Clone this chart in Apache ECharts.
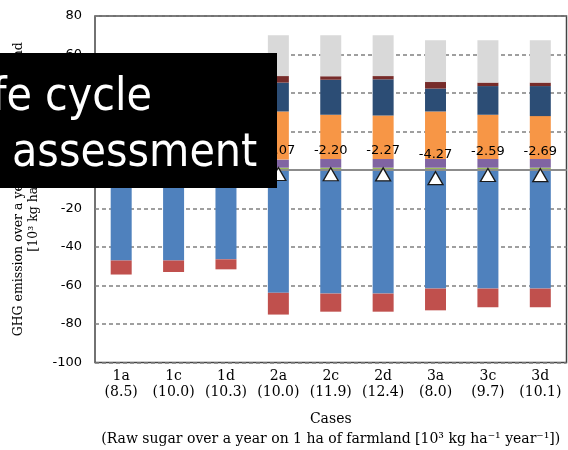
<!DOCTYPE html>
<html>
<head>
<meta charset="utf-8">
<script src="https://cdn.jsdelivr.net/npm/echarts@6/dist/echarts.min.js"></script>
<style>
  html, body { margin: 0; padding: 0; background: #fff; }
  #chart { width: 568px; height: 450px; }
</style>
</head>
<body>
<div id="chart"></div>
<script>
// Cases and raw sugar yield per case [10^3 kg ha^-1 year^-1]
const categories = ['1a', '1c', '1d', '2a', '2c', '2d', '3a', '3c', '3d'];
const sugarYield = ['8.5', '10.0', '10.3', '10.0', '11.9', '12.4', '8.0', '9.7', '10.1'];

// Emission components (positive, stacked from zero upward)
const stage1 = [1.0, 1.0, 1.0, 1.2, 1.2, 1.2, 1.2, 1.2, 1.2];
const stage2 = [3.8, 3.8, 3.8, 4.2, 4.5, 4.5, 4.5, 4.5, 4.5];
const stage3 = [20.0, 18.5, 18.0, 25.0, 23.0, 22.6, 24.7, 23.0, 22.3];
const stage4 = [12.0, 14.5, 15.0, 15.0, 18.2, 18.8, 11.9, 14.9, 15.6];
const stage5 = [2.5, 1.4, 1.3, 3.4, 1.8, 1.7, 3.4, 1.8, 1.8];
const stage6 = [12.5, 12.8, 11.0, 21.2, 21.3, 21.2, 21.7, 22.0, 22.0];

// Removals / credits (negative, stacked from zero downward)
const uptake = [-47.0, -47.0, -46.4, -63.8, -64.2, -64.2, -61.6, -61.6, -61.6];
const offset = [-7.3, -6.0, -5.2, -11.3, -9.4, -9.4, -11.3, -9.7, -9.7];

// Net GHG emission per case
const netEmission = [-2.45, -2.62, -2.78, -2.07, -2.20, -2.27, -4.27, -2.59, -2.69];

// Y axis range
const yMin = -100, yMax = 80, yStep = 20;

const serif = 'DejaVu Serif';
const sans = 'DejaVu Sans';

function barSeries(name, data, color) {
  return {
    name: name,
    type: 'bar',
    stack: 'total',
    barWidth: 21,
    data: data,
    itemStyle: { color: color },
    emphasis: { disabled: true }
  };
}

const series = [
  barSeries('Stage 1', stage1, '#9bbb59'),
  barSeries('Stage 2', stage2, '#8064a2'),
  barSeries('Stage 3', stage3, '#f79646'),
  barSeries('Stage 4', stage4, '#2c4d75'),
  barSeries('Stage 5', stage5, '#772c2a'),
  barSeries('Stage 6', stage6, '#d9d9d9'),
  barSeries('Uptake', uptake, '#4f81bd'),
  Object.assign(barSeries('Offset', offset, '#c0504d'), {
    markLine: {
      silent: true,
      symbol: 'none',
      label: { show: false },
      lineStyle: { color: '#8c8c8c', width: 2, type: 'solid' },
      data: [{ yAxis: 0 }]
    }
  }),
  {
    name: 'Net',
    type: 'scatter',
    z: 5,
    data: netEmission,
    symbol: 'triangle',
    symbolSize: [15, 13],
    itemStyle: { color: '#ffffff', borderColor: '#1a1a1a', borderWidth: 1.3, opacity: 1 },
    label: {
      show: true,
      position: 'top',
      distance: 10,
      formatter: p => p.value.toFixed(2),
      fontFamily: sans,
      fontSize: 13,
      color: '#000'
    },
    emphasis: { disabled: true }
  }
];

const chart = echarts.init(document.getElementById('chart'), null, { renderer: 'canvas' });

chart.setOption({
  animation: false,
  backgroundColor: '#ffffff',
  grid: {
    left: 95, right: 1.5, top: 16, bottom: 87.5,
    containLabel: false,
    outerBoundsMode: 'none',
    show: true,
    borderColor: '#444444',
    borderWidth: 1.5,
    backgroundColor: 'transparent'
  },
  xAxis: {
    type: 'category',
    data: categories,
    axisLine: { show: false },
    axisTick: { show: false },
    axisLabel: {
      interval: 0,
      margin: 6,
      fontFamily: serif,
      fontSize: 14,
      lineHeight: 16,
      color: '#000',
      formatter: (v, i) => v + '\n(' + sugarYield[i] + ')'
    },
    name: 'Cases\n(Raw sugar over a year on 1 ha of farmland [10³ kg ha⁻¹ year⁻¹])',
    nameLocation: 'middle',
    nameGap: 46.5,
    nameTextStyle: { fontFamily: serif, fontSize: 14, lineHeight: 20, color: '#000' }
  },
  yAxis: {
    type: 'value',
    min: yMin,
    max: yMax,
    interval: yStep,
    axisLine: { show: false },
    axisTick: { show: false },
    axisLabel: { fontFamily: sans, fontSize: 13, color: '#000', margin: 13 },
    splitLine: { lineStyle: { color: '#808080', width: 1.5, type: [4, 3] } },
    name: 'GHG emission over a year on 1 ha of farmland\n[10³ kg ha⁻¹ year⁻¹]',
    nameLocation: 'middle',
    nameRotate: 90,
    nameGap: 53,
    nameTextStyle: { fontFamily: serif, fontSize: 12.5, lineHeight: 15, color: '#000' }
  },
  series: series,
  graphic: [
    {
      type: 'rect',
      z: 100,
      shape: { x: 0, y: 53, width: 277, height: 135 },
      style: { fill: '#000000' }
    },
    {
      type: 'text',
      z: 101,
      x: 152, y: 98,
      style: {
        text: 'fe cycle',
        fill: '#ffffff',
        font: '46px "DejaVu Sans Condensed", "DejaVu Sans"',
        textAlign: 'right', align: 'right',
        textVerticalAlign: 'middle', verticalAlign: 'middle'
      }
    },
    {
      type: 'text',
      z: 101,
      x: 12, y: 154,
      style: {
        text: 'assessment',
        fill: '#ffffff',
        font: '46px "DejaVu Sans Condensed", "DejaVu Sans"',
        textAlign: 'left', align: 'left',
        textVerticalAlign: 'middle', verticalAlign: 'middle'
      }
    }
  ]
});
</script>
</body>
</html>
